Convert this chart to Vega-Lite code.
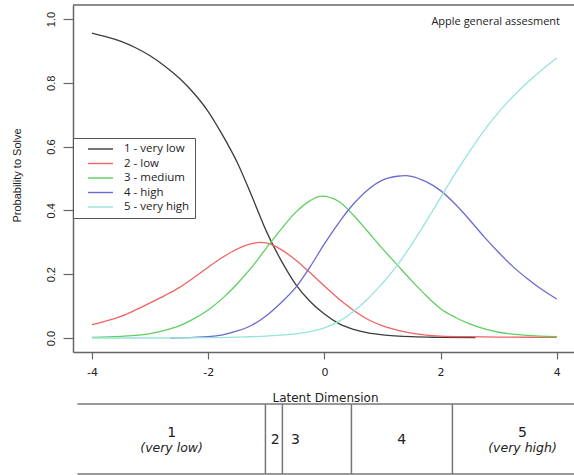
{
  "$schema": "https://vega.github.io/schema/vega-lite/v6.json",
  "width": 501,
  "height": 347,
  "autosize": {"type": "none"},
  "padding": {"left": 73, "top": 5, "right": 0, "bottom": 123},
  "background": "white",
  "config": {"view": {"stroke": null}, "font": "Liberation Sans"},
  "title": {
    "text": "Apple general assesment",
    "orient": "top",
    "anchor": "end",
    "frame": "group",
    "offset": -29,
    "baseline": "middle",
    "dx": -14,
    "font": "Open Sans",
    "fontSize": 11,
    "fontWeight": "normal",
    "color": "#222222"
  },
  "datasets": {
    "curves": [
      {"x": -4, "p": 0.956, "c": "1 - very low"},
      {"x": -3.75, "p": 0.944, "c": "1 - very low"},
      {"x": -3.5, "p": 0.93, "c": "1 - very low"},
      {"x": -3.25, "p": 0.91, "c": "1 - very low"},
      {"x": -3, "p": 0.885, "c": "1 - very low"},
      {"x": -2.75, "p": 0.853, "c": "1 - very low"},
      {"x": -2.5, "p": 0.815, "c": "1 - very low"},
      {"x": -2.25, "p": 0.768, "c": "1 - very low"},
      {"x": -2, "p": 0.71, "c": "1 - very low"},
      {"x": -1.75, "p": 0.635, "c": "1 - very low"},
      {"x": -1.5, "p": 0.55, "c": "1 - very low"},
      {"x": -1.25, "p": 0.445, "c": "1 - very low"},
      {"x": -1, "p": 0.335, "c": "1 - very low"},
      {"x": -0.75, "p": 0.245, "c": "1 - very low"},
      {"x": -0.5, "p": 0.17, "c": "1 - very low"},
      {"x": -0.25, "p": 0.115, "c": "1 - very low"},
      {"x": 0, "p": 0.075, "c": "1 - very low"},
      {"x": 0.25, "p": 0.045, "c": "1 - very low"},
      {"x": 0.5, "p": 0.027, "c": "1 - very low"},
      {"x": 0.75, "p": 0.016, "c": "1 - very low"},
      {"x": 1, "p": 0.01, "c": "1 - very low"},
      {"x": 1.5, "p": 0.004, "c": "1 - very low"},
      {"x": 2, "p": 0.002, "c": "1 - very low"},
      {"x": 2.6, "p": 0.001, "c": "1 - very low"},

      {"x": -4, "p": 0.042, "c": "2 - low"},
      {"x": -3.75, "p": 0.054, "c": "2 - low"},
      {"x": -3.5, "p": 0.068, "c": "2 - low"},
      {"x": -3.25, "p": 0.088, "c": "2 - low"},
      {"x": -3, "p": 0.11, "c": "2 - low"},
      {"x": -2.75, "p": 0.133, "c": "2 - low"},
      {"x": -2.5, "p": 0.158, "c": "2 - low"},
      {"x": -2.25, "p": 0.189, "c": "2 - low"},
      {"x": -2, "p": 0.222, "c": "2 - low"},
      {"x": -1.75, "p": 0.253, "c": "2 - low"},
      {"x": -1.5, "p": 0.279, "c": "2 - low"},
      {"x": -1.25, "p": 0.296, "c": "2 - low"},
      {"x": -1.1, "p": 0.3, "c": "2 - low"},
      {"x": -1, "p": 0.298, "c": "2 - low"},
      {"x": -0.75, "p": 0.278, "c": "2 - low"},
      {"x": -0.5, "p": 0.245, "c": "2 - low"},
      {"x": -0.25, "p": 0.205, "c": "2 - low"},
      {"x": 0, "p": 0.163, "c": "2 - low"},
      {"x": 0.25, "p": 0.122, "c": "2 - low"},
      {"x": 0.5, "p": 0.087, "c": "2 - low"},
      {"x": 0.75, "p": 0.058, "c": "2 - low"},
      {"x": 1, "p": 0.038, "c": "2 - low"},
      {"x": 1.25, "p": 0.025, "c": "2 - low"},
      {"x": 1.5, "p": 0.015, "c": "2 - low"},
      {"x": 1.75, "p": 0.009, "c": "2 - low"},
      {"x": 2, "p": 0.006, "c": "2 - low"},
      {"x": 2.5, "p": 0.004, "c": "2 - low"},
      {"x": 3, "p": 0.003, "c": "2 - low"},
      {"x": 4, "p": 0.002, "c": "2 - low"},

      {"x": -4, "p": 0.002, "c": "3 - medium"},
      {"x": -3.5, "p": 0.005, "c": "3 - medium"},
      {"x": -3, "p": 0.014, "c": "3 - medium"},
      {"x": -2.75, "p": 0.024, "c": "3 - medium"},
      {"x": -2.5, "p": 0.038, "c": "3 - medium"},
      {"x": -2.25, "p": 0.06, "c": "3 - medium"},
      {"x": -2, "p": 0.088, "c": "3 - medium"},
      {"x": -1.75, "p": 0.125, "c": "3 - medium"},
      {"x": -1.5, "p": 0.17, "c": "3 - medium"},
      {"x": -1.25, "p": 0.222, "c": "3 - medium"},
      {"x": -1, "p": 0.282, "c": "3 - medium"},
      {"x": -0.75, "p": 0.34, "c": "3 - medium"},
      {"x": -0.5, "p": 0.393, "c": "3 - medium"},
      {"x": -0.25, "p": 0.43, "c": "3 - medium"},
      {"x": -0.05, "p": 0.445, "c": "3 - medium"},
      {"x": 0.25, "p": 0.428, "c": "3 - medium"},
      {"x": 0.5, "p": 0.385, "c": "3 - medium"},
      {"x": 0.75, "p": 0.333, "c": "3 - medium"},
      {"x": 1, "p": 0.28, "c": "3 - medium"},
      {"x": 1.25, "p": 0.23, "c": "3 - medium"},
      {"x": 1.5, "p": 0.18, "c": "3 - medium"},
      {"x": 1.75, "p": 0.133, "c": "3 - medium"},
      {"x": 2, "p": 0.092, "c": "3 - medium"},
      {"x": 2.25, "p": 0.065, "c": "3 - medium"},
      {"x": 2.5, "p": 0.044, "c": "3 - medium"},
      {"x": 3, "p": 0.018, "c": "3 - medium"},
      {"x": 3.5, "p": 0.008, "c": "3 - medium"},
      {"x": 4, "p": 0.004, "c": "3 - medium"},

      {"x": -2.65, "p": 0.0, "c": "4 - high"},
      {"x": -2.25, "p": 0.002, "c": "4 - high"},
      {"x": -2, "p": 0.004, "c": "4 - high"},
      {"x": -1.75, "p": 0.01, "c": "4 - high"},
      {"x": -1.5, "p": 0.022, "c": "4 - high"},
      {"x": -1.25, "p": 0.04, "c": "4 - high"},
      {"x": -1, "p": 0.07, "c": "4 - high"},
      {"x": -0.75, "p": 0.11, "c": "4 - high"},
      {"x": -0.5, "p": 0.157, "c": "4 - high"},
      {"x": -0.25, "p": 0.222, "c": "4 - high"},
      {"x": 0, "p": 0.295, "c": "4 - high"},
      {"x": 0.25, "p": 0.362, "c": "4 - high"},
      {"x": 0.5, "p": 0.42, "c": "4 - high"},
      {"x": 0.75, "p": 0.465, "c": "4 - high"},
      {"x": 1, "p": 0.495, "c": "4 - high"},
      {"x": 1.25, "p": 0.507, "c": "4 - high"},
      {"x": 1.4, "p": 0.509, "c": "4 - high"},
      {"x": 1.5, "p": 0.507, "c": "4 - high"},
      {"x": 1.75, "p": 0.49, "c": "4 - high"},
      {"x": 2, "p": 0.462, "c": "4 - high"},
      {"x": 2.25, "p": 0.42, "c": "4 - high"},
      {"x": 2.5, "p": 0.37, "c": "4 - high"},
      {"x": 2.75, "p": 0.317, "c": "4 - high"},
      {"x": 3, "p": 0.268, "c": "4 - high"},
      {"x": 3.25, "p": 0.223, "c": "4 - high"},
      {"x": 3.5, "p": 0.185, "c": "4 - high"},
      {"x": 3.75, "p": 0.151, "c": "4 - high"},
      {"x": 4, "p": 0.122, "c": "4 - high"},

      {"x": -4, "p": 0.0, "c": "5 - very high"},
      {"x": -3, "p": 0.0, "c": "5 - very high"},
      {"x": -2, "p": 0.001, "c": "5 - very high"},
      {"x": -1.5, "p": 0.003, "c": "5 - very high"},
      {"x": -1, "p": 0.006, "c": "5 - very high"},
      {"x": -0.5, "p": 0.013, "c": "5 - very high"},
      {"x": -0.25, "p": 0.02, "c": "5 - very high"},
      {"x": 0, "p": 0.032, "c": "5 - very high"},
      {"x": 0.25, "p": 0.052, "c": "5 - very high"},
      {"x": 0.5, "p": 0.083, "c": "5 - very high"},
      {"x": 0.75, "p": 0.123, "c": "5 - very high"},
      {"x": 1, "p": 0.172, "c": "5 - very high"},
      {"x": 1.25, "p": 0.227, "c": "5 - very high"},
      {"x": 1.5, "p": 0.293, "c": "5 - very high"},
      {"x": 1.75, "p": 0.365, "c": "5 - very high"},
      {"x": 2, "p": 0.44, "c": "5 - very high"},
      {"x": 2.25, "p": 0.515, "c": "5 - very high"},
      {"x": 2.5, "p": 0.585, "c": "5 - very high"},
      {"x": 2.75, "p": 0.651, "c": "5 - very high"},
      {"x": 3, "p": 0.708, "c": "5 - very high"},
      {"x": 3.25, "p": 0.758, "c": "5 - very high"},
      {"x": 3.5, "p": 0.802, "c": "5 - very high"},
      {"x": 3.75, "p": 0.842, "c": "5 - very high"},
      {"x": 4, "p": 0.878, "c": "5 - very high"}
    ],
    "cuts": [
      {"cut": -1.015},
      {"cut": -0.723},
      {"cut": 0.465},
      {"cut": 2.203}
    ],
    "cells": [
      {"cat": "1", "note": "(very low)", "x": -2.63},
      {"cat": "2", "note": "", "x": -0.845},
      {"cat": "3", "note": "", "x": -0.5},
      {"cat": "4", "note": "", "x": 1.33},
      {"cat": "5", "note": "(very high)", "x": 3.41}
    ]
  },
  "layer": [
    {
      "data": {"name": "curves"},
      "mark": {"type": "line", "interpolate": "monotone", "strokeWidth": 1.3},
      "encoding": {
        "x": {
          "field": "x",
          "type": "quantitative",
          "scale": {"domain": [-4.327, 4.296], "nice": false, "zero": false},
          "axis": {
            "values": [-4, -2, 0, 2, 4],
            "labelExpr": "'' + datum.value",
            "grid": false,
            "domainColor": "#666666",
            "domainWidth": 1.5,
            "tickColor": "#666666",
            "tickWidth": 1.2,
            "tickSize": 7,
            "labelFont": "DejaVu Sans",
            "labelFontSize": 11,
            "labelColor": "#222222",
            "labelBaseline": "middle",
            "labelPadding": 13.5,
            "labelFlush": false,
            "labelOverlap": false,
            "title": "Latent Dimension",
            "titleFont": "DejaVu Sans",
            "titleFontSize": 12,
            "titleFontWeight": "normal",
            "titleColor": "#222222",
            "titleBaseline": "middle",
            "titleX": 252,
            "titleY": 45.5
          }
        },
        "y": {
          "field": "p",
          "type": "quantitative",
          "scale": {"domain": [-0.0439, 1.0439], "nice": false, "zero": false},
          "axis": {
            "values": [0, 0.2, 0.4, 0.6, 0.8, 1],
            "format": ".1f",
            "grid": false,
            "domainColor": "#666666",
            "domainWidth": 1.5,
            "tickColor": "#666666",
            "tickWidth": 1.2,
            "tickSize": 10,
            "labelAngle": 270,
            "labelAlign": "center",
            "labelBaseline": "alphabetic",
            "labelPadding": 9,
            "labelFont": "Liberation Sans",
            "labelFontSize": 11,
            "labelColor": "#222222",
            "labelFlush": false,
            "labelOverlap": false,
            "title": "Probability to Solve",
            "titleFont": "Liberation Sans",
            "titleFontSize": 11,
            "titleFontWeight": "normal",
            "titleColor": "#222222",
            "titleAngle": 270,
            "titleAlign": "center",
            "titleBaseline": "middle",
            "titleX": -56,
            "titleY": 170
          }
        },
        "color": {
          "field": "c",
          "type": "nominal",
          "scale": {
            "domain": ["1 - very low", "2 - low", "3 - medium", "4 - high", "5 - very high"],
            "range": ["#3c3c3c", "#f06262", "#5fcf5f", "#6a6ad0", "#98e4dc"]
          },
          "legend": {
            "title": null,
            "orient": "none",
            "legendX": 0,
            "legendY": 133,
            "fillColor": "white",
            "strokeColor": "#555555",
            "padding": 5,
            "rowPadding": 2.5,
            "symbolType": "M-2.5,0H2.5",
            "symbolSize": 100,
            "symbolStrokeWidth": 1.4,
            "symbolOffset": 16.5,
            "labelOffset": 17.5,
            "labelFont": "Open Sans",
            "labelFontSize": 11.5,
            "labelColor": "#222222",
            "labelLimit": 200
          }
        }
      }
    },
    {
      "data": {"values": [{}]},
      "mark": {"type": "rule", "color": "#666666", "strokeWidth": 1.5},
      "encoding": {"y": {"datum": 1.0439}}
    },
    {
      "data": {"values": [{}]},
      "mark": {"type": "rule", "color": "#777777", "strokeWidth": 1.5},
      "encoding": {"x": {"datum": -4.25}, "x2": {"datum": 4.296}, "y": {"datum": -0.2069}}
    },
    {
      "data": {"values": [{}]},
      "mark": {"type": "rule", "color": "#777777", "strokeWidth": 1.5},
      "encoding": {"x": {"datum": -4.25}, "x2": {"datum": 4.296}, "y": {"datum": -0.4263}}
    },
    {
      "data": {"name": "cuts"},
      "mark": {"type": "rule", "color": "#777777", "strokeWidth": 1.5},
      "encoding": {
        "x": {"field": "cut", "type": "quantitative"},
        "y": {"datum": -0.2069},
        "y2": {"datum": -0.4263}
      }
    },
    {
      "data": {"name": "cells"},
      "transform": [{"filter": "datum.note != ''"}],
      "mark": {"type": "text", "font": "DejaVu Sans", "fontSize": 14, "color": "#222222", "baseline": "middle"},
      "encoding": {
        "x": {"field": "x", "type": "quantitative"},
        "y": {"datum": -0.2978},
        "text": {"field": "cat"}
      }
    },
    {
      "data": {"name": "cells"},
      "transform": [{"filter": "datum.note != ''"}],
      "mark": {"type": "text", "font": "DejaVu Sans", "fontSize": 12.5, "fontStyle": "italic", "color": "#222222", "baseline": "middle"},
      "encoding": {
        "x": {"field": "x", "type": "quantitative"},
        "y": {"datum": -0.3448},
        "text": {"field": "note"}
      }
    },
    {
      "data": {"name": "cells"},
      "transform": [{"filter": "datum.note == ''"}],
      "mark": {"type": "text", "font": "DejaVu Sans", "fontSize": 14, "color": "#222222", "baseline": "middle"},
      "encoding": {
        "x": {"field": "x", "type": "quantitative"},
        "y": {"datum": -0.32},
        "text": {"field": "cat"}
      }
    }
  ]
}
